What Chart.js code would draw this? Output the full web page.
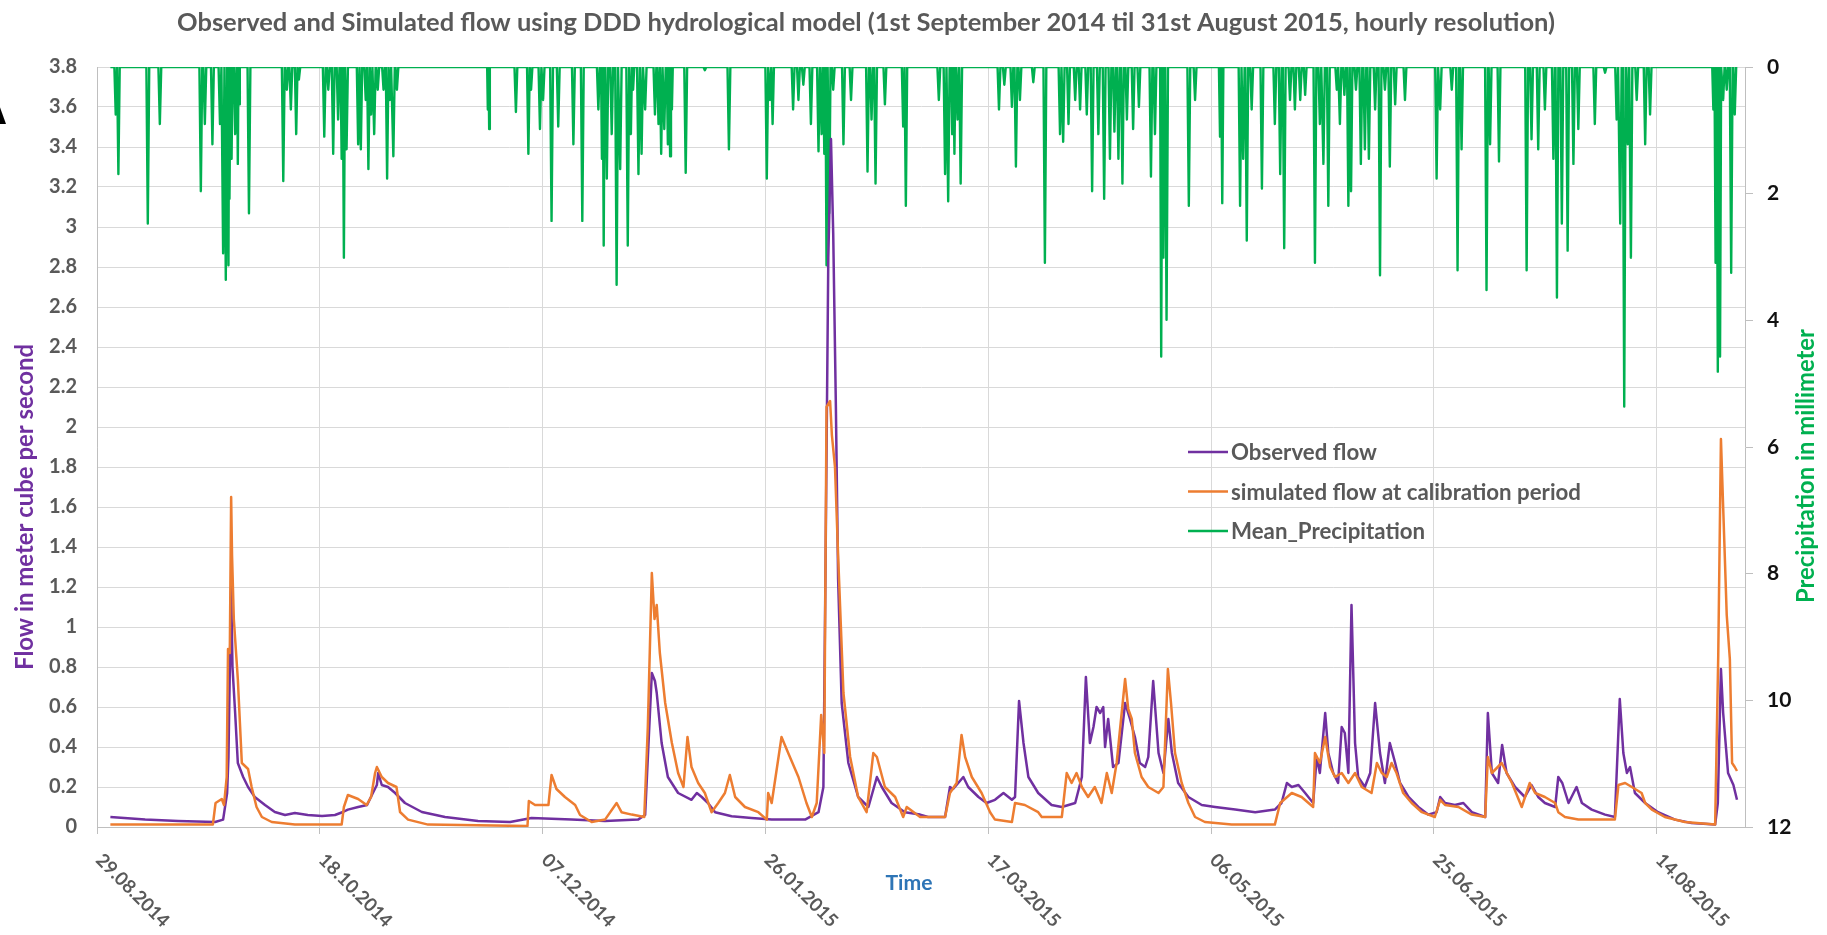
<!DOCTYPE html>
<html>
<head>
<meta charset="utf-8">
<title>DDD hydrological model – observed and simulated flow</title>
<script src="https://cdn.jsdelivr.net/npm/chart.js@4.4.1/dist/chart.umd.min.js"></script>
<style>
  html, body { margin: 0; padding: 0; background: #ffffff; }
  #wrap { width: 1827px; height: 935px; position: relative; }
</style>
</head>
<body>
<div id="wrap"><canvas id="c" width="1827" height="935"></canvas></div>
<script>
// ---- texts ----
const chartTitle = 'Observed and Simulated flow using DDD hydrological model (1st September 2014 til 31st August 2015, hourly resolution)';
const panelLetter = 'A';
const xTitle = 'Time';
const yTitle = 'Flow in meter cube per second';
const y2Title = 'Precipitation in millimeter';

// ---- axes ----
// time is counted in days since 01.09.2014 00:00
const seriesStart = Date.UTC(2014, 8, 1);
const dateTicks = ['29.08.2014', '18.10.2014', '07.12.2014', '26.01.2015', '17.03.2015', '06.05.2015', '25.06.2015', '14.08.2015'];
const axisEndDay = 366.8;
const flowTicks = [0, 0.2, 0.4, 0.6, 0.8, 1, 1.2, 1.4, 1.6, 1.8, 2, 2.2, 2.4, 2.6, 2.8, 3, 3.2, 3.4, 3.6, 3.8];
const rainTicks = [0, 2, 4, 6, 8, 10, 12];

// ---- observed flow (m3/s) ----
const obsDay = [0,7.8,15.2,23.5,25.3,26.2,26.5,27.1,27.4,28.0,28.6,29.8,30.9,32.4,34.7,36.9,39.2,41.4,44.3,47.5,
  50.4,52.2,53.3,55.6,57.6,58.9,59.8,60.1,60.9,62.3,63.9,66.1,69.9,75.1,82.5,89.7,94.5,103.5,111.0,118.4,
  120.0,121.5,122.2,122.6,123.7,125.1,127.4,130.4,131.6,132.7,134.1,135.7,139.4,143.9,148.4,155.9,158.9,160.0,160.5,161.1,
  161.7,162.2,162.8,163.3,164.1,165.6,167.8,170.1,172.0,173.1,175.3,178.3,181.7,183.5,187.3,188.4,189.1,191.4,192.5,194.8,
  196.6,198.5,200.4,202.3,203.0,203.9,204.9,206.0,208.2,211.2,213.5,216.5,218.0,218.9,219.8,220.6,221.3,222.1,222.8,223.2,
  223.9,225.0,226.2,227.7,228.8,229.9,231.0,232.2,232.9,234.0,235.2,236.3,237.4,238.2,239.6,241.9,244.9,247.9,252.4,256.9,
  261.3,262.8,264.0,265.1,266.6,268.1,269.9,270.7,271.4,272.6,273.3,274.4,275.5,276.3,277.0,277.8,278.5,279.3,280.0,281.5,
  282.7,283.8,284.9,286.0,287.1,288.3,289.4,291.3,293.5,295.7,297.6,298.4,299.5,301.7,303.6,305.5,308.5,309.1,310.0,311.4,
  312.3,313.3,315.2,317.4,318.9,320.4,321.9,324.2,324.9,325.8,327.2,329.0,330.2,332.4,335.4,337.6,338.7,339.5,340.3,341.0,
  342.1,344.4,347.3,351.1,354.8,360.1,360.7,361.4,361.9,363.0,364.2,365.0];
const obsFlow = [0.05,0.037,0.03,0.025,0.037,0.17,0.35,1.2,0.8,0.57,0.32,0.25,0.2,0.15,0.11,0.075,0.06,0.07,0.06,0.055,
  0.06,0.075,0.087,0.1,0.11,0.17,0.21,0.27,0.21,0.2,0.17,0.12,0.075,0.05,0.03,0.025,0.045,0.037,0.03,0.037,
  0.06,0.77,0.73,0.67,0.42,0.25,0.17,0.136,0.17,0.15,0.12,0.074,0.054,0.045,0.037,0.037,0.074,0.2,1.36,2.85,
  3.44,2.97,2.1,1.24,0.62,0.32,0.15,0.1,0.25,0.2,0.12,0.074,0.062,0.05,0.05,0.2,0.19,0.25,0.2,0.15,
  0.12,0.136,0.17,0.136,0.15,0.63,0.42,0.25,0.17,0.11,0.1,0.12,0.25,0.75,0.42,0.5,0.6,0.57,0.6,0.4,
  0.54,0.3,0.32,0.62,0.54,0.45,0.32,0.3,0.35,0.73,0.37,0.27,0.54,0.37,0.22,0.15,0.11,0.1,0.087,0.074,
  0.087,0.12,0.22,0.2,0.21,0.17,0.12,0.35,0.27,0.57,0.37,0.27,0.22,0.5,0.47,0.27,1.11,0.42,0.25,0.2,
  0.27,0.62,0.37,0.22,0.42,0.32,0.22,0.15,0.1,0.062,0.074,0.15,0.12,0.11,0.12,0.074,0.05,0.57,0.27,0.22,
  0.41,0.27,0.2,0.15,0.21,0.15,0.12,0.1,0.25,0.22,0.12,0.2,0.12,0.087,0.062,0.05,0.64,0.37,0.27,0.3,
  0.17,0.12,0.074,0.037,0.02,0.012,0.12,0.79,0.57,0.27,0.21,0.136];

// ---- simulated flow, calibration period (m3/s) ----
const simDay = [0,23.0,23.6,25.0,25.5,26.1,26.4,26.8,27.1,27.3,27.7,28.6,29.5,30.9,31.7,32.8,34.0,36.2,41.4,51.9,
  52.4,53.3,55.6,57.5,58.5,59.4,59.8,60.9,62.3,64.2,65.0,66.8,71.3,93.6,93.9,95.3,98.3,99.0,100.1,102.0,
  104.3,105.4,108.0,111.0,113.6,114.7,117.0,119.8,120.6,121.5,122.1,122.6,123.3,124.5,126.0,127.4,128.6,129.5,130.4,131.9,
  133.4,134.9,136.4,137.9,139.0,140.2,142.4,145.4,147.3,147.6,148.4,150.6,152.1,154.4,156.2,157.4,158.5,159.5,160.2,160.7,
  161.5,161.9,162.6,163.3,164.5,166.0,167.8,169.7,171.2,172.0,173.8,176.1,177.9,178.7,181.7,187.3,188.4,189.9,191.0,191.8,
  193.3,195.5,197.4,198.5,202.3,203.0,205.2,208.2,209.0,213.5,214.6,215.7,216.8,218.0,219.4,220.9,222.4,223.6,224.7,225.8,
  227.7,228.4,229.2,229.9,231.4,232.9,235.2,236.3,237.3,238.0,238.9,240.4,241.9,243.4,245.6,251.6,261.3,262.5,265.1,267.3,
  269.9,270.3,271.4,272.6,273.7,274.8,276.3,277.8,279.3,280.8,283.0,284.2,285.3,286.4,287.5,288.6,290.1,292.0,294.3,297.2,
  298.4,299.5,302.5,305.5,308.5,309.1,310.0,312.2,314.5,316.7,318.5,319.7,321.9,324.2,324.9,326.4,329.4,337.6,338.4,339.9,
  341.4,343.6,344.4,345.9,348.8,353.3,360.1,360.8,361.4,361.9,362.7,363.4,363.9,364.5,365.0];
const simFlow = [0.012,0.012,0.12,0.14,0.11,0.25,0.89,0.87,1.65,1.36,1.04,0.74,0.32,0.29,0.2,0.1,0.05,0.025,0.012,0.012,
  0.1,0.16,0.14,0.11,0.15,0.27,0.3,0.25,0.22,0.2,0.075,0.037,0.012,0.005,0.13,0.11,0.11,0.26,0.19,0.15,
  0.11,0.06,0.025,0.037,0.12,0.074,0.062,0.05,0.5,1.27,1.04,1.11,0.87,0.62,0.42,0.27,0.2,0.45,0.3,0.22,
  0.17,0.074,0.12,0.17,0.26,0.15,0.1,0.074,0.037,0.17,0.12,0.45,0.37,0.25,0.12,0.05,0.12,0.56,0.37,2.1,
  2.13,1.96,1.8,1.36,0.67,0.35,0.15,0.074,0.37,0.35,0.2,0.15,0.05,0.1,0.05,0.05,0.17,0.22,0.46,0.35,
  0.25,0.17,0.074,0.037,0.025,0.12,0.11,0.074,0.05,0.05,0.27,0.22,0.27,0.2,0.15,0.2,0.12,0.27,0.17,0.32,
  0.74,0.59,0.54,0.37,0.25,0.2,0.17,0.2,0.79,0.62,0.37,0.22,0.12,0.05,0.025,0.012,0.012,0.12,0.17,0.15,
  0.1,0.37,0.32,0.45,0.3,0.25,0.27,0.22,0.27,0.2,0.17,0.32,0.27,0.25,0.32,0.27,0.17,0.12,0.074,0.05,
  0.136,0.11,0.1,0.062,0.05,0.35,0.27,0.32,0.22,0.1,0.22,0.17,0.15,0.12,0.074,0.05,0.037,0.037,0.21,0.22,
  0.2,0.17,0.12,0.087,0.05,0.025,0.012,0.86,1.94,1.6,1.06,0.84,0.32,0.3,0.28];

// ---- mean precipitation: rainy hours (day, mm); all other hours are 0 mm ----
const rainDay = [1.2,1.8,8.4,11.1,20.3,21.2,22.9,24.6,25.3,25.9,26.5,26.8,27.2,28.0,28.6,28.9,31.1,38.8,39.6,40.5,
  41.7,42.3,48.0,48.9,50.0,51.1,51.9,52.4,53.0,55.6,56.2,57.3,57.9,58.5,59.2,60.0,61.3,62.1,62.7,63.5,
  64.3,84.7,85.0,91.0,93.8,94.4,96.4,97.1,99.0,100.5,103.9,105.9,109.5,110.3,110.7,111.4,112.5,113.6,114.4,116.1,
  116.8,117.3,118.5,119.2,120.0,122.2,123.0,123.6,124.3,125.1,125.6,126.0,129.1,133.4,138.8,147.3,148.0,148.6,153.2,154.4,
  155.5,157.2,158.9,159.6,160.2,160.7,161.3,162.2,164.5,166.2,169.9,170.8,171.7,173.8,177.9,178.5,185.9,187.3,188.0,188.9,
  189.4,190.1,190.8,199.4,200.6,202.3,203.2,204.1,207.1,209.7,213.1,213.8,215.0,216.5,217.6,219.1,220.3,221.7,223.0,224.3,
  225.3,226.2,227.1,228.1,229.5,230.8,233.5,234.4,235.8,236.3,237.0,242.0,243.4,249.0,249.5,253.5,254.2,255.0,256.1,258.4,
  261.3,262.5,263.4,264.7,265.8,267.0,268.1,270.3,271.4,272.2,273.3,275.2,275.9,276.9,277.8,278.4,279.5,280.6,281.5,282.4,
  283.8,284.9,286.0,287.1,288.3,290.5,297.6,298.4,301.0,302.3,303.2,308.8,309.6,311.6,317.8,318.9,320.4,321.9,323.8,324.6,
  325.7,327.0,328.3,329.4,333.1,335.4,338.0,338.8,339.7,340.5,341.2,342.5,344.4,345.5,359.7,360.2,360.7,361.2,361.9,362.7,
  363.7,364.5];
const rainMm = [0.75,1.69,2.47,0.9,1.96,0.9,1.22,0.9,2.94,3.36,3.13,2.08,1.45,1.06,1.53,0.59,2.31,1.8,0.36,0.67,
  1.06,0.2,1.1,0.36,1.37,0.83,1.45,3.01,1.3,1.22,1.3,0.52,1.61,0.75,1.06,0.36,0.36,1.76,0.52,1.41,
  0.36,0.67,0.98,0.71,1.37,0.36,0.98,0.52,2.43,0.94,1.22,2.43,0.67,1.45,2.82,1.76,1.06,3.44,1.61,2.82,
  1.06,0.36,1.69,1.37,0.67,0.75,0.9,1.37,0.98,1.22,1.41,0.67,1.67,0.05,1.3,1.76,0.52,0.9,0.67,0.52,
  0.28,0.9,1.33,1.06,1.37,3.13,2.31,0.36,1.22,0.52,1.65,0.83,1.84,0.59,0.94,2.19,0.52,1.69,2.12,1.06,
  1.37,0.83,1.84,0.67,0.28,0.63,1.57,0.52,0.24,3.09,1.06,1.18,0.9,0.52,0.67,0.75,1.96,1.06,2.08,1.45,
  1.02,1.45,1.84,0.83,0.98,0.63,1.73,1.06,4.57,3.01,3.99,2.19,0.52,1.1,2.15,2.19,1.45,2.74,0.67,1.92,
  0.9,1.69,2.86,0.52,0.67,0.52,0.44,3.09,0.9,1.53,2.19,0.36,0.9,0.44,2.19,1.96,0.36,1.53,1.3,1.45,
  0.67,3.29,0.36,1.57,0.59,0.52,1.76,0.67,0.36,3.21,1.3,3.52,1.22,1.49,3.21,1.14,1.3,0.67,1.45,3.64,
  2.47,2.9,1.53,0.98,0.9,0.09,0.83,2.47,5.36,1.22,3.01,0.52,1.22,0.75,0.67,3.09,4.81,4.57,0.52,0.36,
  3.25,0.75];
const seriesEndDay = 365.0;

// ---- helpers ----
function dayOf(label) {
  const [d, m, y] = label.split('.').map(Number);
  return (Date.UTC(y, m - 1, d) - seriesStart) / 86400000;
}
function pairs(days, vals) {
  return days.map((d, i) => ({ x: d, y: vals[i] }));
}
// hourly rain trace: dry baseline with a short spike at every rainy hour
function rainTrace(days, vals) {
  const pts = [{ x: 0, y: 0 }];
  days.forEach((d, i) => {
    const prev = i > 0 ? d - days[i - 1] : 1;
    const next = i < days.length - 1 ? days[i + 1] - d : 1;
    const h = Math.min(0.32, prev / 2, next / 2);
    pts.push({ x: d - h, y: 0 }, { x: d, y: vals[i] }, { x: d + h, y: 0 });
  });
  pts.push({ x: seriesEndDay, y: 0 });
  return pts;
}
function fitFont(c, text, target, family) {
  c.font = 'bold 20px ' + family;
  const w = c.measureText(text).width;
  return 'bold ' + (20 * target / w).toFixed(2) + 'px ' + family;
}

// ---- overlay texts: title, axis titles, date labels, legend ----
const decor = {
  id: 'decor',
  afterDraw(chart) {
    const c = chart.ctx;
    const xs = chart.scales.x;
    c.save();

    // chart title
    c.fillStyle = '#595959';
    c.font = fitFont(c, chartTitle, 1378, 'Lato');
    c.textAlign = 'center';
    c.textBaseline = 'middle';
    c.fillText(chartTitle, 866, 23);

    // panel letter at the left border
    c.fillStyle = '#000000';
    c.font = 'bold 46px "Liberation Sans"';
    c.textAlign = 'left';
    c.textBaseline = 'alphabetic';
    c.fillText(panelLetter, -26, 124);

    // left axis title
    c.save();
    c.translate(25, 507);
    c.rotate(-Math.PI / 2);
    c.fillStyle = '#7030A0';
    c.font = fitFont(c, yTitle, 326, 'Lato');
    c.textAlign = 'center';
    c.textBaseline = 'middle';
    c.fillText(yTitle, 0, 0);
    c.restore();

    // right axis title
    c.save();
    c.translate(1806, 466);
    c.rotate(-Math.PI / 2);
    c.fillStyle = '#00B050';
    c.font = fitFont(c, y2Title, 274, 'Lato');
    c.textAlign = 'center';
    c.textBaseline = 'middle';
    c.fillText(y2Title, 0, 0);
    c.restore();

    // x axis title
    c.fillStyle = '#2E75B6';
    c.font = fitFont(c, xTitle, 47, 'Lato');
    c.textAlign = 'center';
    c.textBaseline = 'middle';
    c.fillText(xTitle, 909, 883);

    // date labels, turned 45 degrees clockwise
    c.fillStyle = '#595959';
    c.font = fitFont(c, dateTicks[0], 95, 'Lato');
    c.textAlign = 'left';
    c.textBaseline = 'middle';
    xs.ticks.forEach((t, i) => {
      const px = xs.getPixelForValue(t.value);
      c.save();
      c.translate(px + 2, 857);
      c.rotate(Math.PI / 4);
      c.fillText(dateTicks[i], 0, 0);
      c.restore();
    });

    // legend inside the plot
    const lx = 1188, ly = 452, step = 39.5;
    const lf = fitFont(c, chart.data.datasets[1].label, 350, 'Lato');
    chart.data.datasets.forEach((ds, i) => {
      const y = ly + i * step;
      c.strokeStyle = ds.borderColor;
      c.lineWidth = 2.5;
      c.beginPath();
      c.moveTo(lx, y);
      c.lineTo(lx + 40, y);
      c.stroke();
      c.fillStyle = '#595959';
      c.font = lf;
      c.textAlign = 'left';
      c.textBaseline = 'middle';
      c.fillText(ds.label, lx + 43, y + 1);
    });

    c.restore();
  }
};

const tickFont = { family: 'Lato', weight: 'bold', size: 20 };

new Chart(document.getElementById('c').getContext('2d'), {
  type: 'line',
  data: {
    datasets: [
      { label: 'Observed flow', data: pairs(obsDay, obsFlow), borderColor: '#7030A0', borderWidth: 2.5, yAxisID: 'y', order: 1 },
      { label: 'simulated flow at calibration period', data: pairs(simDay, simFlow), borderColor: '#ED7D31', borderWidth: 2.5, yAxisID: 'y', order: 0 },
      { label: 'Mean_Precipitation', data: rainTrace(rainDay, rainMm), borderColor: '#00B050', borderWidth: 2.4, yAxisID: 'y2', order: 2 }
    ]
  },
  options: {
    responsive: false,
    animation: false,
    devicePixelRatio: 1,
    events: [],
    layout: { padding: { top: 67, left: 0, right: 0, bottom: 0 } },
    elements: {
      point: { radius: 0 },
      line: { tension: 0, fill: false, borderJoinStyle: 'round' }
    },
    plugins: {
      legend: { display: false },
      title: { display: false },
      tooltip: { enabled: false }
    },
    scales: {
      x: {
        type: 'linear',
        min: dayOf(dateTicks[0]),
        max: axisEndDay,
        afterBuildTicks: s => { s.ticks = dateTicks.map(t => ({ value: dayOf(t) })); },
        afterFit: s => { s.height = 108; },
        ticks: { display: false },
        grid: { color: '#d9d9d9', lineWidth: 1, drawTicks: true, tickLength: 7, tickColor: '#bfbfbf' },
        border: { color: '#bfbfbf', width: 1 }
      },
      y: {
        position: 'left',
        min: 0,
        max: 3.8,
        afterBuildTicks: s => { s.ticks = flowTicks.map(v => ({ value: v })); },
        afterFit: s => { s.width = 97; },
        ticks: {
          font: tickFont,
          color: '#595959',
          padding: 20,
          callback: v => String(+Number(v).toFixed(1))
        },
        grid: { color: '#d9d9d9', lineWidth: 1, drawTicks: false },
        border: { color: '#bfbfbf', width: 1 }
      },
      y2: {
        position: 'right',
        reverse: true,
        min: 0,
        max: 12,
        afterBuildTicks: s => { s.ticks = rainTicks.map(v => ({ value: v })); },
        afterFit: s => { s.width = 82; },
        ticks: { font: { family: 'Lato', weight: 'bold', size: 21 }, color: '#111111', padding: 14 },
        grid: { drawOnChartArea: false, drawTicks: true, tickLength: 8, color: '#bfbfbf' },
        border: { color: '#bfbfbf', width: 1 }
      }
    }
  },
  plugins: [decor]
});
</script>
</body>
</html>
